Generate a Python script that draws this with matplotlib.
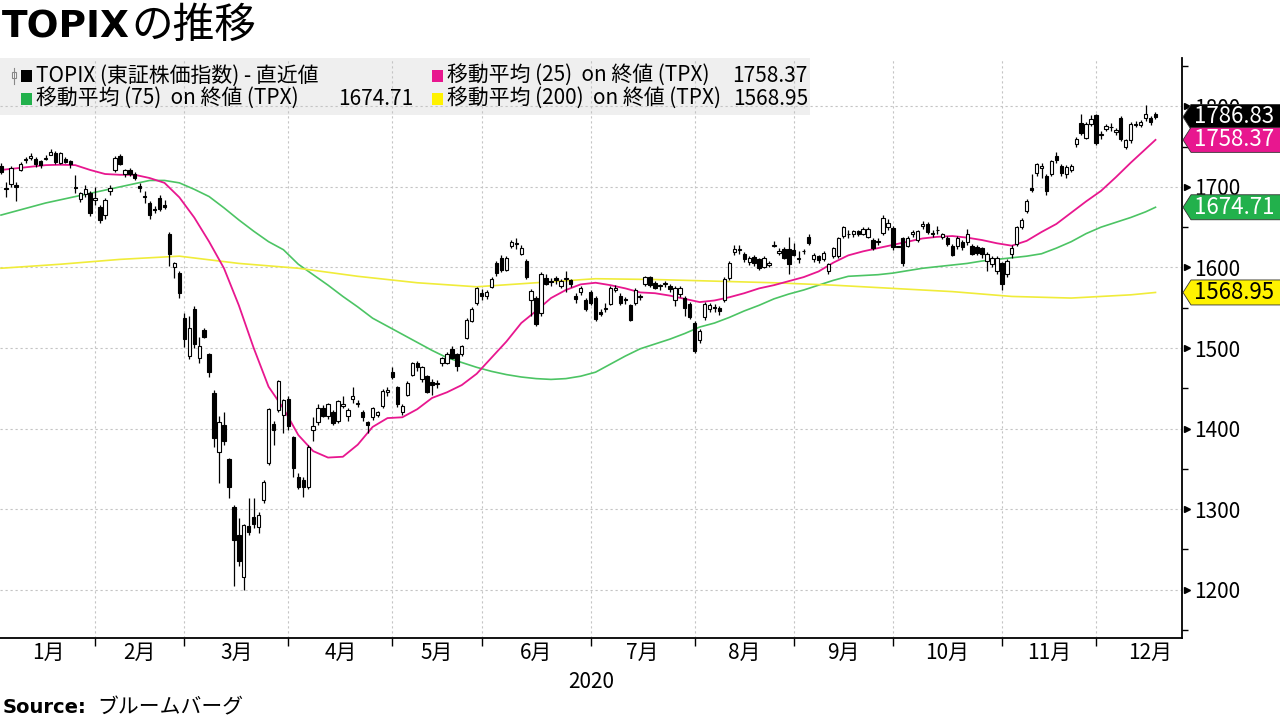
"""
TOPIXの推移 - daily candles with 25/75/200 day moving averages (2020)
"""

import matplotlib
matplotlib.use("Agg")
import matplotlib.pyplot as plt
from matplotlib.patches import Rectangle, Polygon
from matplotlib.lines import Line2D
import numpy as np

plt.rcParams['font.family'] = ['Noto Sans CJK JP', 'DejaVu Sans']

# ==========================================================
# DATA  (trading-day index 0 = 2019-12-30)
# ==========================================================

open_px = [
    1726, 1699, 1703, 1702, 1721, 1733, 1736, 1735, 1732, 1735, 1740, 1742, 1730, 1735, 1732, 1700, 1685, 1691, 1693, 1684,
    1675, 1665, 1695, 1721, 1738, 1716, 1721, 1716, 1701, 1689, 1680, 1673, 1686, 1677, 1642, 1600, 1593, 1537,
    1490, 1549, 1488, 1522, 1492, 1444, 1371, 1404, 1362, 1303, 1268, 1216, 1279, 1290, 1278, 1311, 1357, 1406, 1423, 1417, 1437,
    1389, 1340, 1336, 1327, 1398, 1408, 1426, 1416, 1420, 1409, 1428, 1415, 1437, 1431, 1421, 1408, 1414, 1417, 1428, 1445, 1470,
    1451, 1420, 1442, 1467, 1481, 1461, 1465, 1458, 1455, 1481, 1482, 1499, 1492, 1493, 1513, 1534, 1556, 1568,
    1564, 1576, 1605, 1612, 1597, 1627, 1629, 1617, 1608, 1559, 1562, 1543, 1587, 1583, 1587, 1577, 1586, 1584, 1565, 1570, 1560, 1570,
    1562, 1545, 1549, 1555, 1572, 1565, 1561, 1553, 1556, 1563, 1579, 1588, 1581, 1578, 1579, 1577, 1559, 1567, 1562, 1555, 1531,
    1510, 1538, 1549, 1551, 1550, 1559, 1587, 1619, 1622, 1617, 1607, 1613, 1610, 1601, 1603, 1627, 1618, 1623, 1623, 1622,
    1611, 1620, 1638, 1610, 1614, 1611, 1596, 1614, 1614, 1639, 1641, 1641, 1645, 1642, 1638, 1634, 1632, 1643, 1650, 1649,
    1626, 1636, 1627, 1641, 1634, 1651, 1654, 1643, 1646, 1638, 1637, 1627, 1626, 1631, 1632, 1627, 1625, 1624, 1608, 1604, 1595, 1605,
    1592, 1617, 1629, 1650, 1670, 1699, 1717, 1724, 1713, 1716, 1738, 1726, 1716, 1721, 1753, 1779, 1761, 1778, 1789,
    1764, 1772, 1774, 1768, 1785, 1750, 1758, 1777, 1777, 1785, 1785, 1791,
]

high_px = [
    1730, 1706, 1726, 1706, 1731, 1737, 1742, 1737, 1734, 1739, 1747, 1744, 1743, 1737, 1733, 1715, 1694, 1702, 1695, 1700,
    1678, 1686, 1702, 1738, 1741, 1722, 1723, 1718, 1705, 1695, 1682, 1676, 1690, 1684, 1644, 1607, 1596, 1544,
    1540, 1552, 1514, 1525, 1494, 1448, 1416, 1420, 1364, 1305, 1289, 1282, 1314, 1314, 1296, 1336, 1425, 1410, 1460, 1437, 1440,
    1391, 1345, 1340, 1379, 1414, 1430, 1429, 1432, 1423, 1436, 1440, 1425, 1452, 1436, 1423, 1410, 1427, 1422, 1449, 1452, 1477,
    1453, 1431, 1459, 1483, 1484, 1478, 1467, 1461, 1460, 1489, 1495, 1502, 1494, 1504, 1537, 1551, 1576, 1573,
    1572, 1588, 1608, 1616, 1614, 1634, 1636, 1628, 1610, 1573, 1565, 1594, 1592, 1587, 1590, 1586, 1595, 1586, 1568, 1577, 1562, 1572,
    1564, 1548, 1556, 1577, 1578, 1568, 1563, 1555, 1574, 1567, 1590, 1590, 1583, 1580, 1583, 1579, 1577, 1577, 1564, 1557, 1533,
    1523, 1557, 1556, 1555, 1552, 1588, 1608, 1628, 1628, 1619, 1614, 1615, 1612, 1614, 1608, 1633, 1624, 1625, 1638, 1630,
    1620, 1623, 1641, 1618, 1616, 1620, 1606, 1626, 1638, 1652, 1646, 1647, 1647, 1650, 1650, 1636, 1637, 1665, 1660, 1651,
    1626, 1638, 1639, 1646, 1647, 1658, 1656, 1646, 1652, 1643, 1639, 1629, 1639, 1634, 1648, 1629, 1628, 1626, 1619, 1614, 1614, 1607,
    1610, 1628, 1652, 1662, 1685, 1716, 1730, 1730, 1716, 1734, 1743, 1728, 1727, 1729, 1762, 1790, 1780, 1789, 1791,
    1770, 1778, 1779, 1773, 1788, 1760, 1780, 1782, 1783, 1802, 1788, 1793,
]

low_px = [
    1716, 1688, 1700, 1683, 1720, 1730, 1733, 1725, 1724, 1733, 1739, 1729, 1728, 1730, 1724, 1692, 1681, 1688, 1664, 1678,
    1655, 1660, 1690, 1718, 1727, 1712, 1713, 1709, 1694, 1680, 1660, 1668, 1670, 1672, 1602, 1587, 1562, 1501,
    1486, 1500, 1482, 1512, 1464, 1377, 1332, 1380, 1314, 1204, 1230, 1199, 1268, 1276, 1270, 1308, 1355, 1379, 1420, 1394, 1398,
    1340, 1325, 1315, 1325, 1385, 1404, 1414, 1412, 1405, 1407, 1425, 1410, 1432, 1427, 1410, 1395, 1411, 1414, 1426, 1441, 1462,
    1427, 1417, 1440, 1465, 1472, 1458, 1444, 1442, 1450, 1478, 1480, 1486, 1472, 1490, 1511, 1532, 1553, 1560,
    1561, 1574, 1590, 1594, 1595, 1624, 1623, 1615, 1586, 1540, 1527, 1540, 1578, 1577, 1580, 1574, 1570, 1576, 1556, 1566, 1546, 1553,
    1533, 1540, 1545, 1553, 1569, 1554, 1555, 1533, 1554, 1559, 1577, 1576, 1573, 1572, 1576, 1570, 1552, 1563, 1540, 1536, 1494,
    1506, 1535, 1545, 1545, 1541, 1557, 1585, 1615, 1617, 1607, 1603, 1602, 1597, 1599, 1600, 1625, 1615, 1610, 1592, 1614,
    1605, 1617, 1628, 1607, 1605, 1608, 1592, 1612, 1612, 1637, 1636, 1638, 1639, 1640, 1636, 1622, 1628, 1640, 1647, 1622,
    1626, 1602, 1625, 1638, 1632, 1648, 1642, 1638, 1642, 1635, 1627, 1614, 1623, 1622, 1628, 1615, 1616, 1612, 1596, 1600, 1592, 1572,
    1588, 1612, 1627, 1648, 1667, 1694, 1714, 1711, 1690, 1713, 1730, 1714, 1711, 1718, 1750, 1765, 1759, 1775, 1752,
    1760, 1769, 1770, 1765, 1757, 1747, 1755, 1774, 1774, 1782, 1777, 1784,
]

close_px = [
    1718, 1697, 1723, 1700, 1729, 1735, 1738, 1728, 1727, 1736, 1743, 1731, 1742, 1731, 1728, 1698, 1693, 1697, 1667, 1686,
    1659, 1684, 1698, 1736, 1729, 1721, 1716, 1711, 1699, 1687, 1665, 1671, 1673, 1675, 1617, 1605, 1568, 1511,
    1525, 1505, 1503, 1514, 1470, 1388, 1408, 1384, 1327, 1262, 1236, 1280, 1271, 1281, 1293, 1334, 1424, 1398, 1459, 1435, 1403,
    1351, 1328, 1327, 1377, 1403, 1426, 1416, 1430, 1407, 1434, 1431, 1423, 1441, 1432, 1414, 1405, 1425, 1420, 1447, 1448, 1464,
    1430, 1428, 1457, 1481, 1476, 1476, 1446, 1454, 1456, 1487, 1493, 1488, 1478, 1502, 1535, 1549, 1575, 1564,
    1570, 1586, 1593, 1597, 1612, 1631, 1630, 1624, 1588, 1571, 1530, 1592, 1580, 1582, 1584, 1583, 1587, 1580, 1561, 1575, 1549, 1556,
    1536, 1542, 1550, 1575, 1575, 1556, 1559, 1535, 1572, 1564, 1588, 1578, 1575, 1577, 1581, 1573, 1575, 1575, 1550, 1538, 1496,
    1521, 1555, 1553, 1550, 1546, 1586, 1606, 1623, 1623, 1610, 1612, 1605, 1599, 1612, 1606, 1628, 1621, 1612, 1604, 1616,
    1612, 1621, 1630, 1616, 1609, 1618, 1604, 1624, 1636, 1650, 1642, 1645, 1642, 1648, 1648, 1624, 1633, 1661, 1655, 1625,
    1625.5, 1605, 1637, 1644, 1645, 1654, 1644, 1641, 1647, 1641, 1629, 1616, 1637, 1625, 1642, 1617, 1618, 1617, 1617, 1612, 1612, 1579,
    1608, 1624, 1650, 1659, 1682, 1696, 1728, 1726, 1695, 1732, 1733, 1717, 1725, 1726, 1760, 1767, 1778, 1784, 1755,
    1766, 1775, 1774, 1771, 1760, 1758, 1778, 1778, 1780, 1790, 1780, 1786.83,
]

# moving averages every 3 trading days
ma_idx = list(range(0, 232, 3)) + [233]
ma25 = [1721, 1723, 1725, 1727, 1727.5, 1727, 1721, 1716, 1715, 1715, 1711, 1705, 1687, 1662, 1632, 1599, 1553, 1500,
        1452, 1425, 1392, 1372, 1364, 1365, 1380, 1402, 1413, 1414, 1424, 1438, 1445, 1454, 1468, 1488, 1508, 1531,
        1546, 1562, 1572, 1579, 1581, 1578, 1574, 1569, 1568, 1565, 1561, 1557, 1559, 1563, 1568, 1574, 1578, 1583,
        1588, 1595, 1606, 1615, 1620, 1624, 1628, 1632, 1636, 1638, 1639, 1637, 1634, 1630, 1627, 1633, 1644, 1654,
        1668, 1682, 1695, 1712, 1730, 1747, 1758.37]
ma75 = [1665, 1670, 1675, 1680, 1684, 1688, 1692, 1696, 1700, 1704, 1708, 1708, 1705, 1697, 1688, 1674, 1659, 1645,
        1632, 1622, 1604, 1591, 1578, 1564, 1551, 1537, 1527, 1517, 1507, 1497, 1488, 1482, 1476, 1471, 1467, 1464,
        1462, 1461, 1462, 1465, 1470, 1480, 1490, 1499, 1505, 1511, 1518, 1526, 1531, 1538, 1546, 1553, 1561, 1567,
        1572, 1578, 1584, 1589, 1590, 1591, 1593, 1596, 1599, 1601, 1603, 1605, 1608, 1610, 1612, 1614, 1617, 1624,
        1632, 1642, 1650, 1656, 1662, 1669, 1674.71]
ma200_idx = [0, 12, 24, 36, 48, 60, 72, 84, 96, 108, 120, 132, 144, 156, 168, 180, 192, 204, 216, 228, 233]
ma200 = [1599, 1604, 1610, 1614, 1605, 1599, 1589, 1581, 1576, 1581, 1586, 1585, 1583, 1581, 1578, 1574, 1570, 1564, 1562,
         1566, 1568.95]

# last trading day of each month (index) and month labels
month_end = [19, 37, 58, 79, 97, 119, 140, 160, 180, 202, 221]
month_labels = ["1月", "2月", "3月", "4月", "5月", "6月", "7月", "8月", "9月", "10月", "11月", "12月"]

legend_names = ["TOPIX (東証株価指数) - 直近値", "移動平均 (25)  on 終値 (TPX)",
                "移動平均 (75)  on 終値 (TPX)", "移動平均 (200)  on 終値 (TPX)"]

# ==========================================================
# STYLE
# ==========================================================

W, H = 1280, 720
C_25 = "#e8178f"
C_75 = "#4cc464"
C_200 = "#f0ec3a"
SQ_75 = "#22b14c"
SQ_200 = "#fff200"
GRID = "#c4c4c4"


def fx(px):
    return px / W


def fy(py):
    return 1 - py / H


# ==========================================================
# FIGURE
# ==========================================================

fig = plt.figure(figsize=(W / 100, H / 100), dpi=100)
ax = fig.add_axes([0, fy(638), fx(1182), (638 - 58) / H])

ax.set_xlim(-0.2, 238.35)
ax.set_ylim(1140, 1860)
ax.set_axisbelow(True)

# legend band (grey, behind grid)
ax.add_patch(Rectangle((0, (638 - 115) / 580), 810 / 1182, 1 - (638 - 115) / 580,
                       transform=ax.transAxes, facecolor="#efefef", edgecolor="none", zorder=0.1))

# moving averages
ax.plot(ma_idx, ma75, color=C_75, lw=1.2, zorder=2)
ax.plot(ma200_idx, ma200, color=C_200, lw=1.2, zorder=2)
ax.plot(ma_idx, ma25, color=C_25, lw=1.3, zorder=2)

# candles
bw = 0.68
for i in range(len(close_px)):
    o, h, l, c = open_px[i], high_px[i], low_px[i], close_px[i]
    ax.plot([i, i], [l, h], color="black", lw=0.9, zorder=3, solid_capstyle="butt")
    up = c >= o
    bottom = min(o, c)
    height = max(abs(c - o), 0.9)
    ax.add_patch(Rectangle((i - bw / 2, bottom), bw, height,
                           facecolor="white" if up else "black",
                           edgecolor="black", lw=0.8, zorder=4))

# grid
grid_dash = (0, (2, 2.5))
for m in month_end:
    ax.axvline(m, color=GRID, lw=0.8, ls=grid_dash, zorder=0.5)
for v in range(1200, 1900, 100):
    ax.axhline(v, color=GRID, lw=0.8, ls=grid_dash, zorder=0.5)

# spines
for s in ["left", "top"]:
    ax.spines[s].set_visible(False)
for s in ["right", "bottom"]:
    ax.spines[s].set_linewidth(1.3)

# x axis: boundary ticks + mid-month labels
bounds = [0] + month_end + [243]
mids = [(bounds[k] + bounds[k + 1]) / 2 for k in range(len(month_labels))]
ax.set_xticks(month_end)
ax.set_xticklabels([])
ax.set_xticks(mids, minor=True)
ax.set_xticklabels(month_labels, minor=True)
ax.tick_params(axis="x", which="major", length=6, width=1, direction="out")
ax.tick_params(axis="x", which="minor", length=0, labelsize=15, pad=3)

# y axis on the right
ax.yaxis.tick_right()
ax.set_yticks(range(1200, 1900, 100))
ax.set_yticks(range(1150, 1900, 50), minor=True)
ax.tick_params(axis="y", which="major", length=0, labelsize=15, pad=9)
ax.tick_params(axis="y", which="minor", length=4, width=1, direction="out")
ax.plot(np.full(7, 1.004), list(range(1200, 1900, 100)), ls="none", marker=">", ms=5,
        color="black", transform=ax.get_yaxis_transform(), clip_on=False, zorder=5)

ax.text(0.5, -0.075, "2020", transform=ax.transAxes, ha="center", va="center", fontsize=15)

# ==========================================================
# LEGEND (manual, Bloomberg style)
# ==========================================================

leg_fs = 15
fig.add_artist(Line2D([fx(14), fx(14)], [fy(68), fy(84)], color="#888888", lw=0.8))
fig.add_artist(Rectangle((fx(12), fy(78)), fx(4), 6 / H, facecolor="white", edgecolor="#888888", lw=0.8))


def legend_row(x, y, color, text):
    fig.add_artist(Rectangle((fx(x), fy(y + 6)), fx(11), 12 / H, facecolor=color, edgecolor="none"))
    fig.text(fx(x + 15), fy(y), text, fontsize=leg_fs, va="center", ha="left")


legend_row(21, 76, "black", legend_names[0])
legend_row(21, 99, SQ_75, legend_names[2])
legend_row(432, 76, C_25, legend_names[1])
legend_row(432, 99, SQ_200, legend_names[3])
fig.text(fx(413), fy(99), f"{ma75[-1]:.2f}", fontsize=leg_fs, va="center", ha="right")
fig.text(fx(808), fy(76), f"{ma25[-1]:.2f}", fontsize=leg_fs, va="center", ha="right")
fig.text(fx(808), fy(99), f"{ma200[-1]:.2f}", fontsize=leg_fs, va="center", ha="right")

# ==========================================================
# LAST-VALUE TAGS ON THE RIGHT
# ==========================================================

tags = [
    (close_px[-1], "black", "white"),
    (ma25[-1], C_25, "white"),
    (ma75[-1], SQ_75, "white"),
    (ma200[-1], SQ_200, "black"),
]
for val, fc, tc in tags:
    yc = ax.transData.transform((0, val))[1]
    hh = 12.5
    pts = [(1183, yc), (1191, yc + hh), (1300, yc + hh), (1300, yc - hh), (1191, yc - hh)]
    fig.add_artist(Polygon([(px / W, py / H) for px, py in pts], closed=True,
                           facecolor=fc, edgecolor="#333333", lw=0.6, zorder=5))
    fig.text(fx(1194), yc / H, f"{val:.2f}", color=tc, fontsize=16, va="center", ha="left", zorder=6)

# ==========================================================
# TITLE / SOURCE
# ==========================================================

r = fig.canvas.get_renderer()
t1 = fig.text(fx(2), fy(38), "TOPIX", fontsize=27, fontweight="bold",
              family="DejaVu Sans", va="baseline")
bb = t1.get_window_extent(r)
fig.text(bb.x1 / W + 0.001, fy(38), "の推移", fontsize=30, va="baseline")

s1 = fig.text(fx(3), fy(713), "Source:", fontsize=14, fontweight="bold",
              family="DejaVu Sans", va="baseline")
bb = s1.get_window_extent(r)
fig.text(bb.x1 / W + 0.008, fy(713), "ブルームバーグ", fontsize=15, va="baseline")

fig.savefig("out.png", dpi=100)
